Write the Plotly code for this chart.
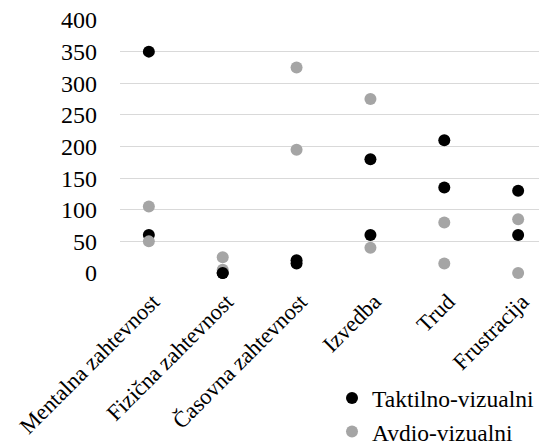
import plotly.graph_objects as go

categories = ["Mentalna zahtevnost", "Fizična zahtevnost", "Časovna zahtevnost",
              "Izvedba", "Trud", "Frustracija"]
taktilno_1 = [350, 0, 20, 180, 210, 130]
avdio_1 = [105, 5, 325, 275, 80, 85]
taktilno_2 = [60, 0, 15, 60, 135, 60]
avdio_2 = [50, 25, 195, 40, 15, 0]
y_ticks = [0, 50, 100, 150, 200, 250, 300, 350, 400]

BLACK = "#000000"
GRAY = "#A5A5A5"
FONT = "Liberation Serif"

fig = go.Figure()
series = [
    ("Taktilno-vizualni", taktilno_1, BLACK, True),
    ("Avdio-vizualni", avdio_1, GRAY, True),
    ("Taktilno-vizualni", taktilno_2, BLACK, False),
    ("Avdio-vizualni", avdio_2, GRAY, False),
]
for name, vals, col, show in series:
    fig.add_trace(go.Scatter(
        x=categories, y=vals, mode="markers", name=name,
        legendgroup=name, showlegend=show, cliponaxis=False,
        marker=dict(color=col, size=12, line=dict(width=0)),
    ))

fig.update_layout(
    width=547, height=441,
    margin=dict(l=112, r=8, t=12, b=175.5, autoexpand=False),
    paper_bgcolor="white", plot_bgcolor="white",
    font=dict(family=FONT, size=23.5, color="black"),
    showlegend=True,
    legend=dict(x=0.4965, y=-0.408, xanchor="left", yanchor="top",
                font=dict(family=FONT, size=23.5, color="black"),
                bgcolor="rgba(0,0,0,0)", tracegroupgap=0, itemwidth=30),
    xaxis=dict(type="category", tickangle=-45, showgrid=False,
               showline=False, zeroline=False, ticks="", automargin=False,
               ticklabelstandoff=10, ticklabelshift=4,
               tickfont=dict(family=FONT, size=22.5, color="black")),
    yaxis=dict(range=[0, 400], tickvals=y_ticks, showgrid=True,
               gridcolor="#D9D9D9", gridwidth=1.3, zeroline=False,
               showline=False, ticks="", ticklabelstandoff=22, automargin=False,
               ticklabeloverflow="allow",
               tickfont=dict(family=FONT, size=24, color="black")),
)

fig.write_html("out.html")
